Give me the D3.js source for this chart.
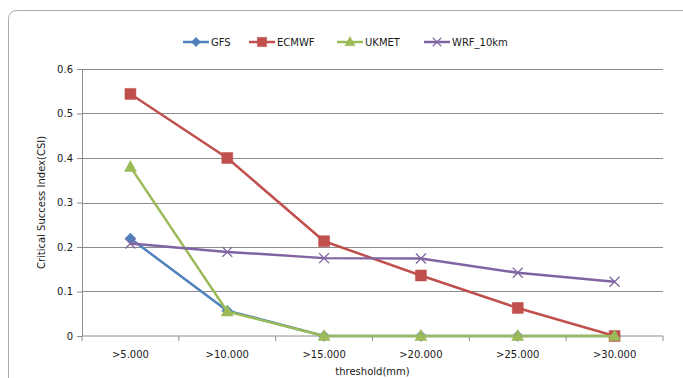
<!DOCTYPE html>
<html>
<head>
<meta charset="utf-8">
<script src="https://cdn.jsdelivr.net/npm/d3@7"></script>
<style>
  body { margin: 0; background: #fff; }
  svg text { font-family: "DejaVu Sans", sans-serif; font-size: 10px; fill: #1a1a1a; }
</style>
</head>
<body>
<svg id="chart" width="683" height="378"></svg>
<script>
var categories = [">5.000", ">10.000", ">15.000", ">20.000", ">25.000", ">30.000"];
var gfs   = [0.219, 0.057, 0, 0, 0, 0];
var ecmwf = [0.544, 0.400, 0.213, 0.136, 0.063, 0];
var ukmet = [0.380, 0.055, 0, 0, 0, 0];
var wrf   = [0.208, 0.189, 0.175, 0.174, 0.142, 0.122];
var yTicks = [0, 0.1, 0.2, 0.3, 0.4, 0.5, 0.6];

var series = [
    {name: "GFS", values: gfs, color: "#4F81BD", marker: "diamond"},
    {name: "ECMWF", values: ecmwf, color: "#C0504D", marker: "square"},
    {name: "UKMET", values: ukmet, color: "#9BBB59", marker: "triangle"},
    {name: "WRF_10km", values: wrf, color: "#8064A2", marker: "x"}
];

var svg = d3.select("#chart"),
    margin = {top: 69, right: 20, bottom: 42, left: 82},
    width = 663 - margin.left,
    height = 336 - margin.top;

// outer frame
svg.append("rect")
    .attr("x", 8.5).attr("y", 10.5)
    .attr("width", 720).attr("height", 420)
    .attr("rx", 8)
    .attr("fill", "none").attr("stroke", "#aaa");

var x = d3.scaleBand().domain(categories).range([0, width]),
    y = d3.scaleLinear().domain([0, 0.6]).range([height, 0]);

var g = svg.append("g")
    .attr("transform", "translate(" + margin.left + "," + margin.top + ")");

// gridlines
g.selectAll(".grid")
    .data(yTicks.slice(1))
    .enter().append("line")
    .attr("x1", 0).attr("x2", width)
    .attr("y1", function(d) { return Math.round(y(d)) + 0.5; })
    .attr("y2", function(d) { return Math.round(y(d)) + 0.5; })
    .attr("stroke", "#8c8c8c").attr("stroke-width", 1);

// y axis
var yAxis = g.append("g")
    .call(d3.axisLeft(y).tickValues(yTicks).tickSize(5).tickPadding(4)
        .tickFormat(function(d) { return d === 0 ? "0" : d3.format(".1f")(d); }));
yAxis.selectAll("text").style("font-size", "10px").attr("fill", "#1a1a1a")
    .style("font-family", "'DejaVu Sans', sans-serif");
yAxis.select(".domain").attr("stroke", "#8c8c8c");
yAxis.selectAll(".tick line").attr("stroke", "#8c8c8c");

// x axis with ticks at band edges
var xAxis = g.append("g").attr("transform", "translate(0," + height + ")");
xAxis.append("line").attr("x1", 0).attr("x2", width).attr("stroke", "#8c8c8c");
var edges = categories.map(function(c) { return x(c); }).concat([width]);
xAxis.selectAll(".tk").data(edges).enter().append("line")
    .attr("x1", function(d) { return d; }).attr("x2", function(d) { return d; })
    .attr("y1", 0).attr("y2", 5).attr("stroke", "#8c8c8c");
xAxis.selectAll(".lbl").data(categories).enter().append("text")
    .attr("x", function(d) { return x(d) + x.bandwidth() / 2; })
    .attr("y", 22)
    .attr("text-anchor", "middle")
    .text(function(d) { return d; });

// axis titles
svg.append("text")
    .attr("transform", "translate(45," + (margin.top + height / 2) + ") rotate(-90)")
    .attr("text-anchor", "middle")
    .text("Critical Success Index(CSI)");
svg.append("text")
    .attr("x", margin.left + width / 2).attr("y", 375)
    .attr("text-anchor", "middle")
    .text("threshold(mm)");

function markerPath(type) {
    if (type === "diamond") return "M0,-5.5L5.5,0L0,5.5L-5.5,0Z";
    if (type === "square") return "M-5.5,-5.5H5.5V5.5H-5.5Z";
    if (type === "triangle") return "M0,-6.5L6,4.5L-6,4.5Z";
    return "M-5,-5L5,5M-5,5L5,-5";
}

var line = d3.line()
    .x(function(d, i) { return x(categories[i]) + x.bandwidth() / 2; })
    .y(function(d) { return y(d); });

series.forEach(function(s) {
    var sg = g.append("g");
    sg.append("path")
        .attr("d", line(s.values))
        .attr("fill", "none").attr("stroke", s.color)
        .attr("stroke-width", 2.5).attr("stroke-linejoin", "round");
    sg.selectAll(".m").data(s.values).enter().append("path")
        .attr("transform", function(d, i) {
            return "translate(" + (x(categories[i]) + x.bandwidth() / 2) + "," + y(d) + ")";
        })
        .attr("d", markerPath(s.marker))
        .attr("fill", s.marker === "x" ? "none" : s.color)
        .attr("stroke", s.color)
        .attr("stroke-width", s.marker === "x" ? 1.3 : 0.5);
});

// legend
var legendX = [183, 249, 337, 424];
var leg = svg.append("g").attr("transform", "translate(0,42)");
series.forEach(function(s, i) {
    var lg = leg.append("g").attr("transform", "translate(" + legendX[i] + ",0)");
    lg.append("line").attr("x1", 0).attr("x2", 26)
        .attr("stroke", s.color).attr("stroke-width", 2.5);
    lg.append("path").attr("transform", "translate(13,0) scale(0.85)")
        .attr("d", markerPath(s.marker))
        .attr("fill", s.marker === "x" ? "none" : s.color)
        .attr("stroke", s.color).attr("stroke-width", s.marker === "x" ? 1.3 : 0.5);
    lg.append("text").attr("x", 28).attr("y", 3.5)
        .text(s.name);
});
</script>
</body>
</html>
